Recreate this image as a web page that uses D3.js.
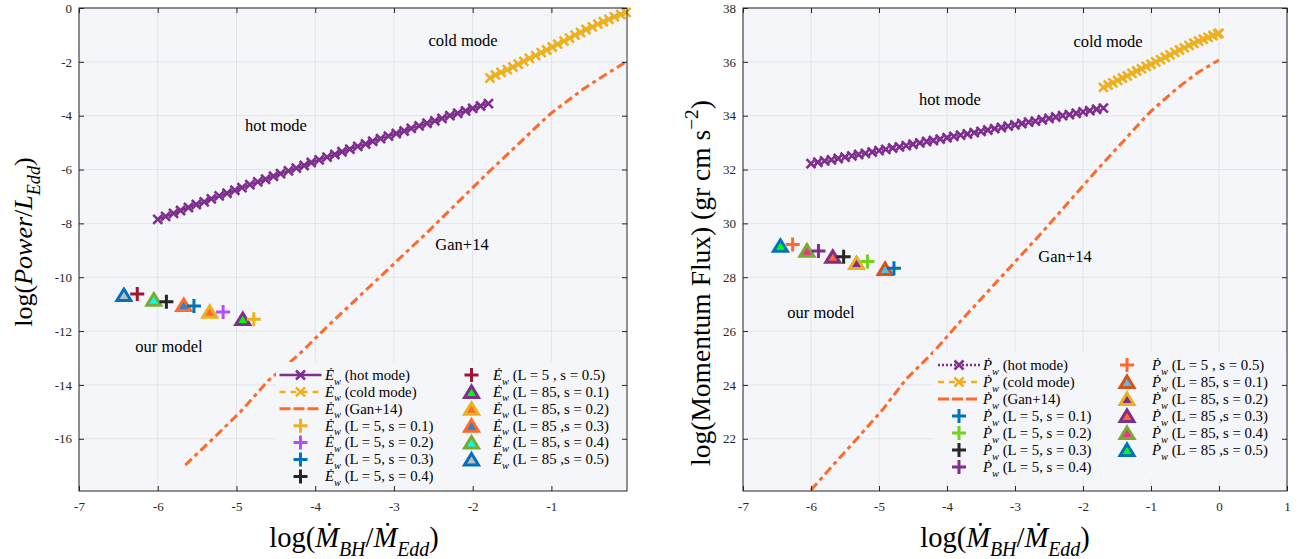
<!DOCTYPE html>
<html>
<head>
<meta charset="utf-8">
<script src="https://cdn.jsdelivr.net/npm/d3@7"></script>
<style>
body { margin: 0; background: #fff; }
svg { display: block; font-family: 'Liberation Serif', 'Times New Roman', serif; }
</style>
</head>
<body>
<svg id="chart" width="1305" height="559"></svg>
<script>
// ---- left panel: wind power ----
var leftXTicks = [-7, -6, -5, -4, -3, -2, -1]
var leftYTicks = [0, -2, -4, -6, -8, -10, -12, -14, -16]

var leftHotX = [-6.00, -5.90, -5.80, -5.71, -5.61, -5.51, -5.41, -5.32, -5.22, -5.12, -5.02, -4.93,
  -4.83, -4.73, -4.63, -4.53, -4.44, -4.34, -4.24, -4.14, -4.05, -3.95, -3.85, -3.75, -3.66, -3.56,
  -3.46, -3.36, -3.27, -3.17, -3.07, -2.97, -2.87, -2.78, -2.68, -2.58, -2.48, -2.39, -2.29, -2.19,
  -2.09, -2.00, -1.90, -1.80]
var leftHotY = [-7.85, -7.74, -7.63, -7.52, -7.41, -7.30, -7.20, -7.09, -6.98, -6.88, -6.77, -6.67,
  -6.56, -6.46, -6.36, -6.25, -6.15, -6.05, -5.95, -5.85, -5.74, -5.64, -5.54, -5.44, -5.34, -5.24,
  -5.14, -5.05, -4.95, -4.85, -4.76, -4.66, -4.57, -4.47, -4.38, -4.28, -4.19, -4.10, -4.00, -3.91,
  -3.82, -3.73, -3.64, -3.55]

var leftColdX = [-1.78, -1.71, -1.64, -1.56, -1.49, -1.42, -1.35, -1.28, -1.20, -1.13, -1.06, -0.99,
  -0.92, -0.84, -0.77, -0.70, -0.63, -0.56, -0.48, -0.41, -0.34, -0.27, -0.20, -0.12, -0.05]
var leftColdY = [-2.60, -2.49, -2.39, -2.29, -2.19, -2.09, -1.98, -1.87, -1.77, -1.66, -1.56, -1.45,
  -1.34, -1.23, -1.12, -1.01, -0.91, -0.80, -0.70, -0.60, -0.51, -0.42, -0.33, -0.24, -0.16]

var leftGanX = [-5.65, -5.3, -4.95, -4.6, -4.2, -3.8, -3.4, -3.0, -2.6, -2.2, -1.8, -1.4, -1.15, -1.0, -0.6, -0.3, -0.05]
var leftGanY = [-16.98, -16.0, -15.0, -13.85, -12.85, -11.7, -10.6, -9.5, -8.4, -7.25, -6.1, -5.0, -4.3, -3.9, -3.02, -2.45, -2.0]

// our model, L = 5 (s = 0.1 ... 0.5) and L = 85 (s = 0.1 ... 0.5)
var leftPlusX = [-4.78, -5.17, -5.54, -5.89, -6.26]
var leftPlusY = [-11.56, -11.29, -11.07, -10.91, -10.62]
var leftTriX = [-4.92, -5.34, -5.67, -6.05, -6.43]
var leftTriY = [-11.59, -11.32, -11.07, -10.87, -10.70]

// ---- right panel: momentum flux ----
var rightXTicks = [-7, -6, -5, -4, -3, -2, -1, 0, 1]
var rightYTicks = [22, 24, 26, 28, 30, 32, 34, 36, 38]

var rightHotX = [-6.0, -5.9, -5.8, -5.7, -5.6, -5.5, -5.4, -5.3, -5.2, -5.1, -5.0, -4.9, -4.8, -4.7, -4.6,
  -4.5, -4.4, -4.3, -4.2, -4.1, -4.0, -3.9, -3.8, -3.7, -3.6, -3.5, -3.4, -3.3, -3.2, -3.1, -3.0,
  -2.9, -2.8, -2.7, -2.6, -2.5, -2.4, -2.3, -2.2, -2.1, -2.0, -1.9, -1.8, -1.7]
var rightHotY = [32.22, 32.27, 32.32, 32.36, 32.41, 32.46, 32.51, 32.56, 32.60, 32.65, 32.70, 32.75,
  32.80, 32.84, 32.89, 32.94, 32.99, 33.04, 33.08, 33.13, 33.18, 33.23, 33.28, 33.32, 33.37, 33.42,
  33.47, 33.52, 33.56, 33.61, 33.66, 33.71, 33.76, 33.80, 33.85, 33.90, 33.95, 34.00, 34.04, 34.09,
  34.14, 34.19, 34.24, 34.28]

var rightColdX = [-1.70, -1.63, -1.56, -1.49, -1.42, -1.35, -1.28, -1.21, -1.14, -1.07, -1.00, -0.93,
  -0.86, -0.79, -0.72, -0.65, -0.58, -0.51, -0.44, -0.37, -0.30, -0.23, -0.16, -0.09, -0.02, 0.0]
var rightColdY = [35.05, 35.14, 35.22, 35.31, 35.40, 35.48, 35.57, 35.66, 35.74, 35.83, 35.91, 36.00,
  36.08, 36.17, 36.26, 36.35, 36.44, 36.52, 36.61, 36.69, 36.77, 36.84, 36.91, 36.98, 37.04, 37.06]

var rightGanX = [-6.0, -5.65, -5.3, -4.95, -4.6, -4.2, -3.8, -3.4, -3.0, -2.6, -2.2, -1.8, -1.4, -1.15, -1.0, -0.6, -0.3, 0.0]
var rightGanY = [20.1, 21.09, 22.07, 23.07, 24.22, 25.22, 26.37, 27.47, 28.57, 29.67, 30.82, 31.97, 33.07, 33.77, 34.17, 35.05, 35.62, 36.07]

var rightPlusX = [-4.78, -5.17, -5.52, -5.89, -6.27]
var rightPlusY = [28.33, 28.58, 28.76, 28.97, 29.22]
var rightTriX = [-4.91, -5.33, -5.68, -6.06, -6.45]
var rightTriY = [28.27, 28.49, 28.72, 28.95, 29.13]

var modelLabels = ['(L = 5, s = 0.1)', '(L = 5, s = 0.2)', '(L = 5, s = 0.3)', '(L = 5, s = 0.4)', '(L = 5 , s = 0.5)']
var model85Labels = ['(L = 85, s = 0.1)', '(L = 85, s = 0.2)', '(L = 85 ,s = 0.3)', '(L = 85, s = 0.4)', '(L = 85 ,s = 0.5)']

// colours
const purple = '#7E2F8E'
const gold = '#EDB120'
const orange = '#FF6929'
const bgColor = '#f5f6fa'
const gridColor = '#e3e3e8'
const axisColor = '#262626'

var leftPlusColors = [gold, '#B64DFF', '#0072BD', '#262626', '#A2142F']
var leftTriEdge = [purple, gold, orange, '#77AC30', '#0072BD']
var leftTriFill = ['#00FF00', orange, '#1f86d6', '#00FFFF', '#BDBDBD']
var rightPlusColors = ['#0072BD', '#6FD21F', '#262626', purple, orange]
var rightTriEdge = ['#D95319', gold, purple, '#77AC30', '#0072BD']
var rightTriFill = ['#4DBEEE', purple, orange, '#F0308F', '#00FF00']

const svg = d3.select('#chart')
const plotTop = 8
const plotBottom = 491

const crossPath = 'M-4.5,-4.5L4.5,4.5M-4.5,4.5L4.5,-4.5'
const plusPath = 'M-7,0H7M0,-7V7'
const triPath = 'M0,-7L7,4.5L-7,4.5Z'

function addParts(sel, parts, size) {
  var shift = 0
  parts.forEach(function(p) {
    var target = p.sub ? size * 0.32 : p.sup ? -size * 0.42 : 0
    sel.append('tspan')
      .text(p.t)
      .attr('dy', target - shift)
      .attr('font-size', (p.sub || p.sup) ? size * 0.7 : size)
      .attr('font-style', p.it ? 'italic' : 'normal')
    shift = target
  })
}

function drawPanel(cfg) {
  var x = d3.scaleLinear().domain(cfg.xDomain).range(cfg.xRange)
  var y = d3.scaleLinear().domain(cfg.yDomain).range([plotBottom, plotTop])
  var g = svg.append('g')
  var x0 = cfg.xRange[0], x1 = cfg.xRange[1]

  g.append('rect')
    .attr('x', x0).attr('y', plotTop)
    .attr('width', x1 - x0).attr('height', plotBottom - plotTop)
    .attr('fill', bgColor)

  // grid
  g.selectAll('.vgrid').data(cfg.xTicks).enter().append('line')
    .attr('x1', x).attr('x2', x)
    .attr('y1', plotTop).attr('y2', plotBottom)
    .attr('stroke', gridColor).attr('stroke-width', 1)
  g.selectAll('.hgrid').data(cfg.yTicks).enter().append('line')
    .attr('x1', x0).attr('x2', x1)
    .attr('y1', y).attr('y2', y)
    .attr('stroke', gridColor).attr('stroke-width', 1)

  var line = d3.line()
    .x(function(d) { return x(d[0]) })
    .y(function(d) { return y(d[1]) })

  var hot = d3.zip(cfg.hotX, cfg.hotY)
  var cold = d3.zip(cfg.coldX, cfg.coldY)
  var gan = d3.zip(cfg.ganX, cfg.ganY)

  g.append('path').datum(gan)
    .attr('d', line).attr('fill', 'none')
    .attr('stroke', orange).attr('stroke-width', 3)
    .attr('stroke-dasharray', '9,4,4,4')

  g.append('path').datum(hot)
    .attr('d', line).attr('fill', 'none')
    .attr('stroke', purple).attr('stroke-width', 2)
    .attr('stroke-dasharray', cfg.hotDash)
  g.selectAll('.hotm').data(hot).enter().append('path')
    .attr('d', crossPath)
    .attr('transform', function(d) { return 'translate(' + x(d[0]) + ',' + y(d[1]) + ')' })
    .attr('stroke', purple).attr('stroke-width', 2.6).attr('fill', 'none')

  g.append('path').datum(cold)
    .attr('d', line).attr('fill', 'none')
    .attr('stroke', gold).attr('stroke-width', 2)
    .attr('stroke-dasharray', '6,4')
  g.selectAll('.coldm').data(cold).enter().append('path')
    .attr('d', crossPath)
    .attr('transform', function(d) { return 'translate(' + x(d[0]) + ',' + y(d[1]) + ')' })
    .attr('stroke', gold).attr('stroke-width', 2.6).attr('fill', 'none')

  // model points
  var tris = d3.zip(cfg.triX, cfg.triY)
  var pluses = d3.zip(cfg.plusX, cfg.plusY)
  for (var i = tris.length - 1; i >= 0; i--) {
    g.append('path')
      .attr('d', triPath)
      .attr('transform', 'translate(' + x(tris[i][0]) + ',' + y(tris[i][1]) + ')')
      .attr('fill', cfg.triFill[i]).attr('stroke', cfg.triEdge[i])
      .attr('stroke-width', 3).attr('stroke-linejoin', 'miter')
    g.append('path')
      .attr('d', plusPath)
      .attr('transform', 'translate(' + x(pluses[i][0]) + ',' + y(pluses[i][1]) + ')')
      .attr('stroke', cfg.plusColors[i]).attr('stroke-width', 3).attr('fill', 'none')
  }

  // annotations
  cfg.notes.forEach(function(n) {
    g.append('text')
      .attr('x', n[1]).attr('y', n[2])
      .attr('text-anchor', 'middle')
      .attr('font-size', 16.5)
      .attr('fill', '#000')
      .text(n[0])
  })

  // legend
  var lg = cfg.legend
  g.append('rect')
    .attr('x', lg.x).attr('y', lg.y)
    .attr('width', x1 - lg.x).attr('height', lg.h)
    .attr('fill', bgColor)

  var sym = cfg.sym
  var entries = [
    { kind: 'line', color: purple, dash: cfg.hotDash, label: ' (hot mode)' },
    { kind: 'line', color: gold, dash: '6,5', label: ' (cold mode)' },
    { kind: 'gan', color: orange, label: ' (Gan+14)' }
  ]
  for (var k = 0; k < 5; k++) {
    entries.push({ kind: 'plus', color: cfg.plusColors[k], label: ' ' + modelLabels[k] })
  }
  for (var k = 0; k < 5; k++) {
    entries.push({ kind: 'tri', color: cfg.triEdge[k], fill: cfg.triFill[k], label: ' ' + model85Labels[k] })
  }

  entries.forEach(function(e, idx) {
    var col = idx < 7 ? 0 : 1
    var row = idx < 7 ? idx : idx - 7
    var cy = lg.rowY + row * lg.rowStep
    var cx = col === 0 ? lg.sym1 : lg.sym2
    var tx = col === 0 ? lg.text1 : lg.text2
    if (e.kind === 'line') {
      g.append('line')
        .attr('x1', cx - 21).attr('x2', cx + 21).attr('y1', cy).attr('y2', cy)
        .attr('stroke', e.color).attr('stroke-width', 2.5)
        .attr('stroke-dasharray', e.dash)
      g.append('path').attr('d', crossPath)
        .attr('transform', 'translate(' + cx + ',' + cy + ')')
        .attr('stroke', e.color).attr('stroke-width', 2.6).attr('fill', 'none')
    } else if (e.kind === 'gan') {
      g.append('line')
        .attr('x1', cx - 21).attr('x2', cx + 21).attr('y1', cy).attr('y2', cy)
        .attr('stroke', e.color).attr('stroke-width', 3)
        .attr('stroke-dasharray', '11,3')
    } else if (e.kind === 'plus') {
      g.append('path').attr('d', plusPath)
        .attr('transform', 'translate(' + cx + ',' + cy + ')')
        .attr('stroke', e.color).attr('stroke-width', 3).attr('fill', 'none')
    } else {
      g.append('path').attr('d', triPath)
        .attr('transform', 'translate(' + cx + ',' + (cy + 1) + ')')
        .attr('fill', e.fill).attr('stroke', e.color)
        .attr('stroke-width', 3).attr('stroke-linejoin', 'miter')
    }
    var t = g.append('text')
      .attr('x', tx).attr('y', cy + 4.8)
      .attr('fill', '#000')
    addParts(t, [{ t: sym, it: true }, { t: 'w', it: true, sub: true }, { t: e.label }], 14.8)
  })

  // axes (ticks inward on all four sides)
  var ax = g.append('g').attr('transform', 'translate(0,' + plotBottom + ')')
    .call(d3.axisBottom(x).tickValues(cfg.xTicks).tickSize(-5).tickPadding(11).tickFormat(d3.format('d')))
  var axTop = g.append('g').attr('transform', 'translate(0,' + plotTop + ')')
    .call(d3.axisTop(x).tickValues(cfg.xTicks).tickSize(-5).tickFormat(''))
  var ay = g.append('g').attr('transform', 'translate(' + x0 + ',0)')
    .call(d3.axisLeft(y).tickValues(cfg.yTicks).tickSize(-5).tickPadding(7).tickFormat(d3.format('d')))
  var ayR = g.append('g').attr('transform', 'translate(' + x1 + ',0)')
    .call(d3.axisRight(y).tickValues(cfg.yTicks).tickSize(-5).tickFormat(''))
  ;[ax, axTop, ay, ayR].forEach(function(a) {
    a.attr('font-family', "'Liberation Serif', serif")
    a.select('.domain').remove()
    a.selectAll('line').attr('stroke', axisColor)
    a.selectAll('text')
      .attr('font-size', 13)
      .attr('fill', axisColor)
      .text(function(d) { return d3.select(this).text().replace('\u2212', '-') })
  })
  g.append('rect')
    .attr('x', x0).attr('y', plotTop)
    .attr('width', x1 - x0).attr('height', plotBottom - plotTop)
    .attr('fill', 'none').attr('stroke', axisColor).attr('stroke-width', 1)

  // axis titles
  var xt = g.append('text')
    .attr('x', cfg.xTitleX).attr('y', 547)
    .attr('text-anchor', 'middle').attr('fill', '#000')
  addParts(xt, [{ t: 'log(' }, { t: '\u1E40', it: true }, { t: 'BH', it: true, sub: true },
    { t: '/' }, { t: '\u1E40', it: true }, { t: 'Edd', it: true, sub: true }, { t: ')' }], 28.5)

  var yt = g.append('text')
    .attr('transform', 'translate(' + cfg.yTitleX + ',' + cfg.yTitleY + ') rotate(-90)')
    .attr('text-anchor', 'middle').attr('fill', '#000')
  addParts(yt, cfg.yTitle, cfg.yTitleSize)
}

drawPanel({
  xDomain: [-7, -0.04], xRange: [79, 627], yDomain: [-17.94, 0],
  xTicks: leftXTicks, yTicks: leftYTicks,
  hotX: leftHotX, hotY: leftHotY, hotDash: null,
  coldX: leftColdX, coldY: leftColdY,
  ganX: leftGanX, ganY: leftGanY,
  plusX: leftPlusX, plusY: leftPlusY, plusColors: leftPlusColors,
  triX: leftTriX, triY: leftTriY, triEdge: leftTriEdge, triFill: leftTriFill,
  notes: [['cold mode', 463, 46], ['hot mode', 276, 131], ['Gan+14', 462, 250], ['our model', 169, 352]],
  legend: { x: 276, y: 362, h: 128, rowY: 375, rowStep: 16.9, sym1: 300.5, text1: 325, sym2: 471.5, text2: 493 },
  sym: '\u0116',
  xTitleX: 354, yTitleX: 32, yTitleY: 242, yTitleSize: 26,
  yTitle: [{ t: 'log(' }, { t: 'Power', it: true }, { t: '/' }, { t: 'L', it: true }, { t: 'Edd', it: true, sub: true }, { t: ')' }]
})

drawPanel({
  xDomain: [-7, 1], xRange: [743, 1287], yDomain: [20.06, 38],
  xTicks: rightXTicks, yTicks: rightYTicks,
  hotX: rightHotX, hotY: rightHotY, hotDash: '2,2',
  coldX: rightColdX, coldY: rightColdY,
  ganX: rightGanX, ganY: rightGanY,
  plusX: rightPlusX, plusY: rightPlusY, plusColors: rightPlusColors,
  triX: rightTriX, triY: rightTriY, triEdge: rightTriEdge, triFill: rightTriFill,
  notes: [['cold mode', 1108, 47], ['hot mode', 950, 105], ['Gan+14', 1065, 262], ['our model', 821, 318]],
  legend: { x: 933, y: 352, h: 127, rowY: 365, rowStep: 17, sym1: 959, text1: 983, sym2: 1127, text2: 1152 },
  sym: '\u1E56',
  xTitleX: 1005, yTitleX: 710, yTitleY: 283, yTitleSize: 27.5,
  yTitle: [{ t: 'log(Momentum Flux) (gr cm s' }, { t: '\u22122', sup: true }, { t: ')' }]
})
</script>
</body>
</html>
